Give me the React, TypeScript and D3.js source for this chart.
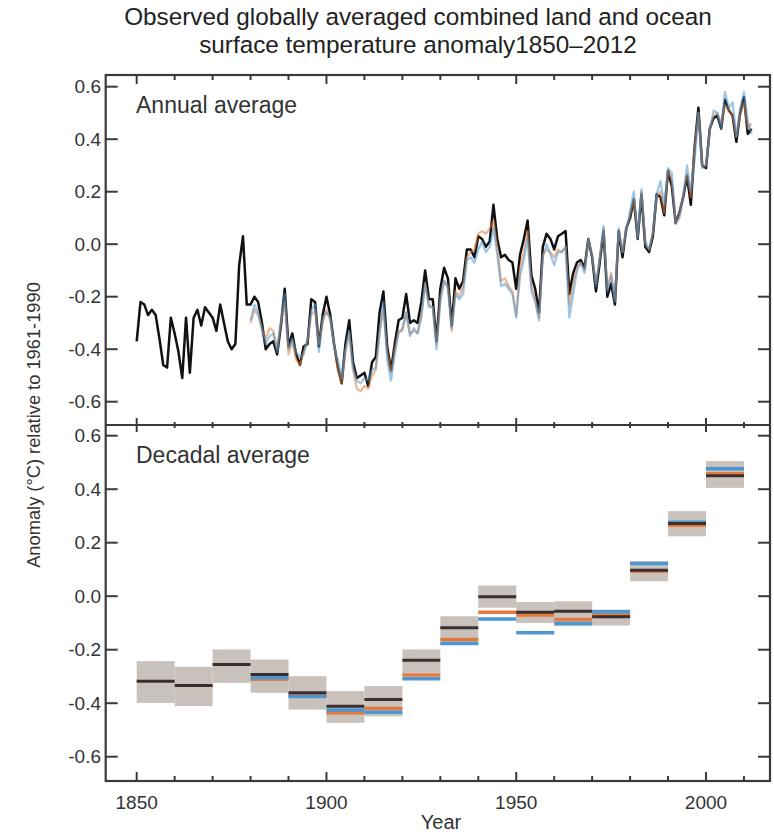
import React from "react";
import * as d3 from "d3";

// ---------- DATA ----------
const annualStartYear = 1850;
const hadcrut4 = [
  -0.37, -0.22, -0.23, -0.27, -0.25, -0.27, -0.36, -0.46, -0.47, -0.28,
  -0.34, -0.41, -0.51, -0.28, -0.49, -0.28, -0.25, -0.31, -0.24, -0.26,
  -0.28, -0.33, -0.23, -0.30, -0.37, -0.40, -0.38, -0.08, 0.03, -0.23,
  -0.23, -0.20, -0.22, -0.30, -0.40, -0.38, -0.37, -0.42, -0.31, -0.17,
  -0.39, -0.34, -0.42, -0.46, -0.39, -0.38, -0.21, -0.22, -0.39, -0.27,
  -0.20, -0.27, -0.38, -0.47, -0.53, -0.38, -0.29, -0.45, -0.51, -0.50,
  -0.49, -0.54, -0.45, -0.43, -0.26, -0.18, -0.39, -0.48, -0.38, -0.29,
  -0.28, -0.19, -0.30, -0.29, -0.30, -0.22, -0.10, -0.21, -0.21, -0.37,
  -0.17, -0.09, -0.13, -0.31, -0.13, -0.17, -0.14, -0.02, -0.02, -0.05,
  0.03, 0.02, -0.01, 0.01, 0.15, 0.02, -0.05, -0.04, -0.06, -0.07,
  -0.17, -0.04, 0.02, 0.09, -0.12, -0.17, -0.26, -0.01, 0.04, 0.02,
  -0.02, 0.03, 0.04, 0.05, -0.19, -0.11, -0.07, -0.06, -0.09, 0.02,
  -0.05, -0.18, -0.07, 0.05, -0.20, -0.15, -0.23, 0.05, -0.05, 0.06,
  0.10, 0.17, 0.02, 0.19, -0.01, -0.03, 0.03, 0.19, 0.18, 0.11,
  0.28, 0.22, 0.08, 0.12, 0.18, 0.26, 0.15, 0.37, 0.52, 0.30,
  0.29, 0.44, 0.48, 0.49, 0.44, 0.55, 0.51, 0.49, 0.39, 0.50,
  0.56, 0.42, 0.44,
];

const otherStartYear = 1880;
const mlost = [
  -0.30, -0.25, -0.27, -0.32, -0.36, -0.32, -0.33, -0.40, -0.30, -0.22,
  -0.42, -0.37, -0.44, -0.46, -0.41, -0.37, -0.27, -0.25, -0.38, -0.30,
  -0.25, -0.29, -0.38, -0.48, -0.53, -0.41, -0.34, -0.48, -0.55, -0.56,
  -0.54, -0.55, -0.50, -0.48, -0.33, -0.25, -0.41, -0.49, -0.40, -0.33,
  -0.33, -0.26, -0.34, -0.33, -0.34, -0.27, -0.15, -0.23, -0.24, -0.38,
  -0.20, -0.14, -0.16, -0.33, -0.18, -0.20, -0.16, -0.05, -0.03, -0.02,
  0.04, 0.05, 0.04, 0.06, 0.09, -0.01, -0.14, -0.13, -0.16, -0.18,
  -0.27, -0.09, -0.03, 0.05, -0.16, -0.21, -0.28, -0.04, -0.02, -0.03,
  -0.05, -0.02, -0.03, -0.01, -0.23, -0.15, -0.09, -0.07, -0.10, 0.02,
  -0.04, -0.15, -0.06, 0.06, -0.17, -0.11, -0.21, 0.05, -0.03, 0.06,
  0.11, 0.17, 0.03, 0.20, 0.00, -0.02, 0.04, 0.18, 0.20, 0.12,
  0.28, 0.24, 0.08, 0.12, 0.19, 0.27, 0.18, 0.37, 0.50, 0.30,
  0.30, 0.44, 0.49, 0.50, 0.46, 0.53, 0.51, 0.49, 0.41, 0.49,
  0.54, 0.44, 0.46,
];
const giss = [
  -0.29, -0.23, -0.26, -0.33, -0.38, -0.35, -0.34, -0.41, -0.29, -0.19,
  -0.40, -0.36, -0.41, -0.43, -0.42, -0.36, -0.25, -0.23, -0.41, -0.28,
  -0.26, -0.28, -0.39, -0.44, -0.51, -0.40, -0.33, -0.47, -0.52, -0.53,
  -0.51, -0.52, -0.48, -0.47, -0.34, -0.22, -0.44, -0.52, -0.42, -0.34,
  -0.32, -0.26, -0.35, -0.32, -0.34, -0.28, -0.15, -0.24, -0.24, -0.40,
  -0.22, -0.14, -0.17, -0.32, -0.19, -0.21, -0.19, -0.06, -0.05, -0.07,
  -0.02, 0.01, -0.03, -0.01, 0.06, -0.04, -0.16, -0.15, -0.17, -0.19,
  -0.28, -0.12, -0.06, 0.02, -0.18, -0.22, -0.29, -0.05, 0.00, -0.04,
  -0.08, -0.03, -0.03, -0.01, -0.28, -0.19, -0.10, -0.07, -0.11, 0.02,
  -0.05, -0.16, -0.05, 0.07, -0.18, -0.12, -0.22, 0.06, -0.03, 0.05,
  0.13, 0.20, 0.02, 0.21, 0.01, -0.02, 0.05, 0.19, 0.24, 0.15,
  0.29, 0.27, 0.08, 0.10, 0.18, 0.30, 0.20, 0.32, 0.50, 0.29,
  0.30, 0.43, 0.51, 0.50, 0.44, 0.58, 0.52, 0.54, 0.41, 0.52,
  0.58, 0.47, 0.42,
];

const decades = [1850, 1860, 1870, 1880, 1890, 1900, 1910, 1920, 1930, 1940, 1950, 1960, 1970, 1980, 1990, 2000];
const decHadcrut = [-0.318, -0.334, -0.255, -0.293, -0.361, -0.411, -0.386, -0.239, -0.118, -0.002, -0.06, -0.056, -0.077, 0.097, 0.272, 0.45];
const decLow = [-0.399, -0.411, -0.324, -0.361, -0.424, -0.473, -0.449, -0.287, -0.181, -0.043, -0.10, -0.112, -0.11, 0.056, 0.224, 0.405];
const decHigh = [-0.243, -0.264, -0.199, -0.237, -0.299, -0.355, -0.336, -0.199, -0.075, 0.04, -0.022, -0.019, -0.05, 0.131, 0.318, 0.505];
const decOtherStart = 1880;
const decMlost = [-0.31, -0.37, -0.436, -0.42, -0.295, -0.162, -0.06, -0.07, -0.087, -0.07, 0.094, 0.265, 0.458];
const decGiss = [-0.305, -0.375, -0.425, -0.434, -0.309, -0.177, -0.085, -0.137, -0.102, -0.058, 0.122, 0.276, 0.476];

const yTicks = [-0.6, -0.4, -0.2, 0.0, 0.2, 0.4, 0.6];
const xMinorTicks = [1850, 1860, 1870, 1880, 1890, 1900, 1910, 1920, 1930, 1940, 1950, 1960, 1970, 1980, 1990, 2000, 2010];
const xMajorTicks = [1850, 1900, 1950, 2000];

const titleLines = ["Observed globally averaged combined land and ocean", "surface temperature anomaly1850\u20132012"];

// ---------- LAYOUT ----------
const W = 774, H = 832;
const L = 105.7, R = 770, T = 75, M = 425, B = 781;
const FONT = "'Liberation Sans', Arial, Helvetica, sans-serif";
const ORANGE = "#e27a3c";
const BLUE = "#4c97d2";

const x = d3.scaleLinear().domain([1850, 2000]).range([136.7, 706]);
const yTop = d3.scaleLinear().domain([-0.6, 0.6]).range([401.7, 86.7]);
const yBot = d3.scaleLinear().domain([-0.6, 0.6]).range([756.7, 435.7]);

const fmt = (v: number) => (v < -0.001 ? "-" : "") + Math.abs(v).toFixed(1);

function series(vals: number[], start: number) {
  return vals.map((v, i) => ({ year: start + i, v }));
}

export default function App() {
  const lineTop = d3
    .line<{ year: number; v: number }>()
    .x((d) => x(d.year))
    .y((d) => yTop(d.v));

  const hadPath = lineTop(series(hadcrut4, annualStartYear)) || "";
  const mlostPath = lineTop(series(mlost, otherStartYear)) || "";
  const gissPath = lineTop(series(giss, otherStartYear)) || "";

  const decOffset = decades.indexOf(decOtherStart);

  const tickColor = "#333";
  const frameColor = "#3a3a3a";

  const yTickEls = (scale: d3.ScaleLinear<number, number>, key: string) =>
    yTicks.map((t) => (
      <g key={key + t}>
        <line x1={L} x2={L + 12} y1={scale(t)} y2={scale(t)} stroke={frameColor} strokeWidth={2} />
        <line x1={R - 12} x2={R} y1={scale(t)} y2={scale(t)} stroke={frameColor} strokeWidth={2} />
        <text x={101} y={scale(t)} dy="0.35em" textAnchor="end" fontSize={19} fill={tickColor} fontFamily={FONT}>
          {fmt(t)}
        </text>
      </g>
    ));

  return (
    <svg width={W} height={H} style={{ position: "absolute", left: 0, top: 0, background: "#fff" }}>
      <rect x={0} y={0} width={W} height={H} fill="#fff" />
      {/* Title */}
      {titleLines.map((t, i) => (
        <text key={t} x={418} y={25 + i * 28} textAnchor="middle" fontSize={24.3} fill="#222" fontFamily={FONT}>
          {t}
        </text>
      ))}

      {/* Annual panel */}
      <path d={hadPath} fill="none" stroke="#111" strokeWidth={2.5} strokeLinejoin="round" />
      <path d={mlostPath} fill="none" stroke={ORANGE} strokeWidth={2.2} strokeOpacity={0.55} strokeLinejoin="round" />
      <path d={gissPath} fill="none" stroke={BLUE} strokeWidth={2.2} strokeOpacity={0.55} strokeLinejoin="round" />
      <text x={136} y={113} fontSize={23} fill="#333" fontFamily={FONT}>Annual average</text>

      {/* Decadal panel */}
      {decades.map((d, i) => (
        <rect key={"box" + d} x={x(d)} width={x(d + 10) - x(d)} y={yBot(decHigh[i])} height={yBot(decLow[i]) - yBot(decHigh[i])} fill="#c9c1bc" />
      ))}
      {decMlost.map((v, i) => {
        const d = decades[i + decOffset];
        return <line key={"m" + d} x1={x(d)} x2={x(d + 10)} y1={yBot(v)} y2={yBot(v)} stroke={ORANGE} strokeWidth={3.5} />;
      })}
      {decGiss.map((v, i) => {
        const d = decades[i + decOffset];
        return <line key={"g" + d} x1={x(d)} x2={x(d + 10)} y1={yBot(v)} y2={yBot(v)} stroke={BLUE} strokeWidth={3.5} />;
      })}
      {decHadcrut.map((v, i) => {
        const d = decades[i];
        return <line key={"h" + d} x1={x(d)} x2={x(d + 10)} y1={yBot(v)} y2={yBot(v)} stroke="#3a2f2c" strokeWidth={3} />;
      })}
      <text x={136} y={463} fontSize={23} fill="#333" fontFamily={FONT}>Decadal average</text>

      {/* Frame */}
      <rect x={L} y={T} width={R - L} height={B - T} fill="none" stroke={frameColor} strokeWidth={2.2} />
      <line x1={L} x2={R} y1={M} y2={M} stroke={frameColor} strokeWidth={2.2} />

      {/* Y ticks */}
      {yTickEls(yTop, "t")}
      {yTickEls(yBot, "b")}

      {/* X ticks */}
      {xMinorTicks.map((yr) => {
        const major = xMajorTicks.includes(yr);
        const len = major ? 9 : 5;
        const xx = x(yr);
        return (
          <g key={"x" + yr}>
            <line x1={xx} x2={xx} y1={T} y2={T + len} stroke={frameColor} strokeWidth={2} />
            <line x1={xx} x2={xx} y1={M - (major ? 7 : 3)} y2={M + (major ? 7 : 3)} stroke={frameColor} strokeWidth={2} />
            <line x1={xx} x2={xx} y1={B - len} y2={B} stroke={frameColor} strokeWidth={2} />
          </g>
        );
      })}
      {xMajorTicks.map((yr) => (
        <text key={"xl" + yr} x={x(yr)} y={809} textAnchor="middle" fontSize={19} fill={tickColor} fontFamily={FONT}>
          {yr}
        </text>
      ))}

      {/* Axis titles */}
      <text x={441} y={829} textAnchor="middle" fontSize={20} fill="#333" fontFamily={FONT}>Year</text>
      <text transform="translate(40,425) rotate(-90)" textAnchor="middle" fontSize={18.3} fill="#333" fontFamily={FONT}>
        Anomaly (°C) relative to 1961-1990
      </text>
    </svg>
  );
}
